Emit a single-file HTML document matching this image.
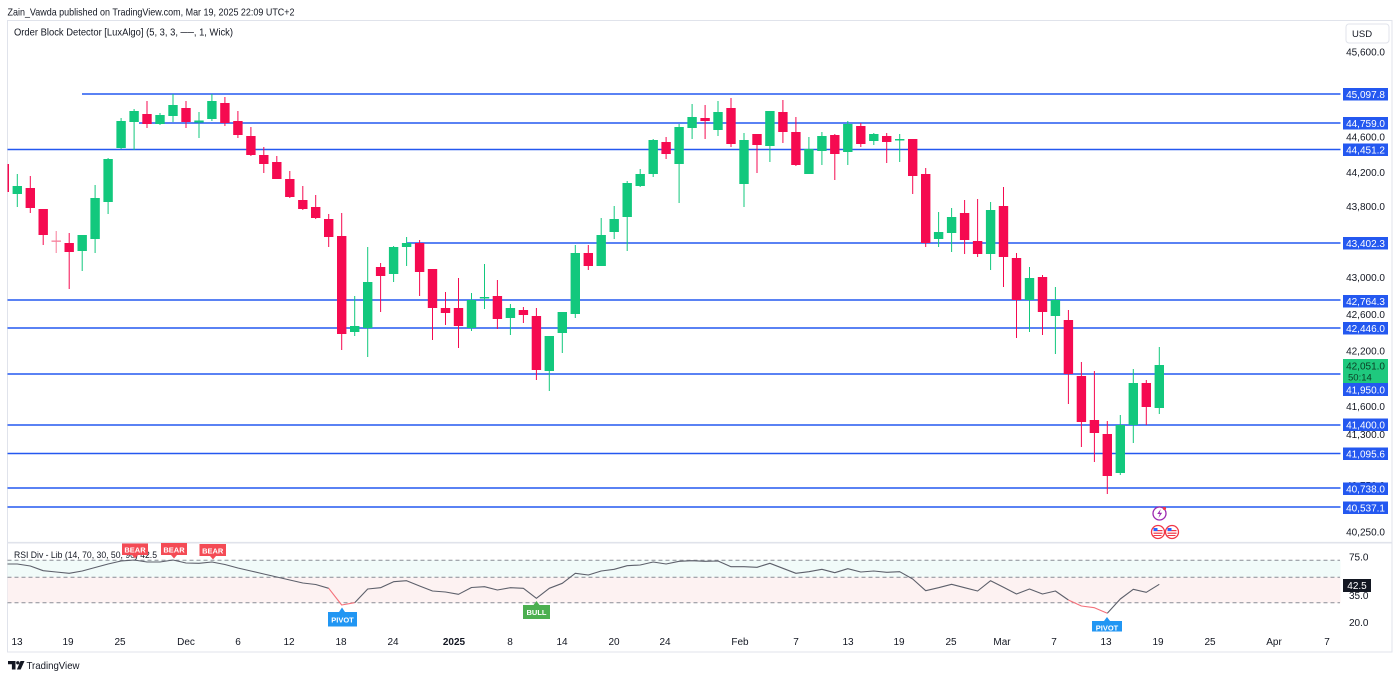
<!DOCTYPE html>
<html><head><meta charset="utf-8"><style>
html,body{margin:0;padding:0;background:#fff;}
svg{display:block;font-family:"Liberation Sans",Arial,sans-serif;}
</style></head><body>
<svg width="1400" height="679" viewBox="0 0 1400 679" xmlns="http://www.w3.org/2000/svg">
<defs>
<clipPath id="mc"><rect x="7.5" y="20.5" width="1333" height="521.5"/></clipPath>
<clipPath id="rc"><rect x="7.5" y="543.5" width="1333" height="88"/></clipPath>
</defs>
<rect width="1400" height="679" fill="#fff"/>
<text x="7.5" y="15.5" font-size="10.5" fill="#131722" textLength="287" lengthAdjust="spacingAndGlyphs">Zain_Vawda published on TradingView.com, Mar 19, 2025 22:09 UTC+2</text>
<rect x="7.5" y="20.5" width="1384.5" height="631.5" fill="none" stroke="#e0e3eb" stroke-width="1"/>
<line x1="7.5" y1="542.7" x2="1392" y2="542.7" stroke="#e0e3eb" stroke-width="1.6"/>

<text x="14" y="35.5" font-size="10" fill="#131722" textLength="219" lengthAdjust="spacingAndGlyphs">Order Block Detector [LuxAlgo] (5, 3, 3, ──, 1, Wick)</text>

<g clip-path="url(#mc)" stroke="#2458f0" stroke-width="1.6">
<line x1="82" y1="94" x2="1343" y2="94"/>
<line x1="139" y1="123" x2="1343" y2="123"/>
<line x1="7.5" y1="149.5" x2="1343" y2="149.5"/>
<line x1="407" y1="243" x2="1343" y2="243"/>
<line x1="7.5" y1="300" x2="1343" y2="300"/>
<line x1="7.5" y1="328" x2="1343" y2="328"/>
<line x1="7.5" y1="374" x2="1343" y2="374"/>
<line x1="7.5" y1="425" x2="1343" y2="425"/>
<line x1="7.5" y1="453.5" x2="1343" y2="453.5"/>
<line x1="7.5" y1="488" x2="1343" y2="488"/>
<line x1="7.5" y1="507" x2="1343" y2="507"/>
</g>

<g clip-path="url(#mc)">
<g fill="#12c87d">
<rect x="16.8" y="174" width="1" height="33"/><rect x="12.6" y="186" width="9.4" height="8"/>
<rect x="81.7" y="235" width="1" height="36"/><rect x="77.5" y="235" width="9.4" height="16"/>
<rect x="94.6" y="185" width="1" height="68"/><rect x="90.4" y="198" width="9.4" height="41"/>
<rect x="107.6" y="158" width="1" height="56"/><rect x="103.4" y="159" width="9.4" height="43"/>
<rect x="120.6" y="118" width="1" height="31"/><rect x="116.4" y="121" width="9.4" height="27"/>
<rect x="133.6" y="109" width="1" height="41"/><rect x="129.4" y="111" width="9.4" height="11"/>
<rect x="159.5" y="113" width="1" height="12"/><rect x="155.3" y="115" width="9.4" height="9"/>
<rect x="172.5" y="94" width="1" height="28"/><rect x="168.3" y="105" width="9.4" height="11"/>
<rect x="198.5" y="112" width="1" height="26"/><rect x="194.3" y="120.5" width="9.4" height="2"/>
<rect x="211.4" y="94" width="1" height="27"/><rect x="207.2" y="101" width="9.4" height="18"/>
<rect x="354.2" y="296" width="1" height="40"/><rect x="350" y="326" width="9.4" height="6"/>
<rect x="367.2" y="247" width="1" height="110"/><rect x="363" y="282" width="9.4" height="46"/>
<rect x="393.1" y="246" width="1" height="36"/><rect x="388.9" y="247" width="9.4" height="27"/>
<rect x="406.1" y="237" width="1" height="29"/><rect x="401.9" y="243" width="9.4" height="4"/>
<rect x="471" y="293" width="1" height="38"/><rect x="466.8" y="300" width="9.4" height="28"/>
<rect x="484" y="264" width="1" height="45"/><rect x="479.8" y="297" width="9.4" height="1.5"/>
<rect x="509.9" y="304" width="1" height="31"/><rect x="505.7" y="308" width="9.4" height="10"/>
<rect x="548.8" y="336" width="1" height="55"/><rect x="544.6" y="336" width="9.4" height="35"/>
<rect x="561.8" y="312" width="1" height="41"/><rect x="557.6" y="312" width="9.4" height="21"/>
<rect x="574.8" y="245" width="1" height="73"/><rect x="570.6" y="253" width="9.4" height="61"/>
<rect x="600.7" y="218" width="1" height="48"/><rect x="596.5" y="235" width="9.4" height="31"/>
<rect x="613.7" y="206" width="1" height="33"/><rect x="609.5" y="219" width="9.4" height="13"/>
<rect x="626.7" y="181" width="1" height="70"/><rect x="622.5" y="183" width="9.4" height="34"/>
<rect x="639.7" y="169" width="1" height="18"/><rect x="635.5" y="174" width="9.4" height="12"/>
<rect x="652.7" y="139" width="1" height="38"/><rect x="648.5" y="140" width="9.4" height="34"/>
<rect x="678.6" y="124" width="1" height="79"/><rect x="674.4" y="127" width="9.4" height="37"/>
<rect x="691.6" y="104" width="1" height="35"/><rect x="687.4" y="117" width="9.4" height="11"/>
<rect x="717.5" y="101" width="1" height="35"/><rect x="713.3" y="112" width="9.4" height="18"/>
<rect x="743.5" y="133" width="1" height="74"/><rect x="739.3" y="140" width="9.4" height="44"/>
<rect x="769.4" y="111" width="1" height="51"/><rect x="765.2" y="111" width="9.4" height="35"/>
<rect x="808.4" y="137" width="1" height="37"/><rect x="804.2" y="149" width="9.4" height="25"/>
<rect x="821.4" y="132" width="1" height="33"/><rect x="817.2" y="136" width="9.4" height="15"/>
<rect x="847.3" y="121" width="1" height="44"/><rect x="843.1" y="124" width="9.4" height="28"/>
<rect x="873.3" y="133" width="1" height="12"/><rect x="869.1" y="134" width="9.4" height="7"/>
<rect x="899.2" y="134" width="1" height="28"/><rect x="895" y="139" width="9.4" height="1.5"/>
<rect x="938.1" y="212" width="1" height="35"/><rect x="933.9" y="232" width="9.4" height="7"/>
<rect x="951.1" y="208" width="1" height="44"/><rect x="946.9" y="217" width="9.4" height="16"/>
<rect x="990.1" y="202" width="1" height="68"/><rect x="985.9" y="210" width="9.4" height="44"/>
<rect x="1029" y="267" width="1" height="65"/><rect x="1024.8" y="278" width="9.4" height="22"/>
<rect x="1054.9" y="287" width="1" height="67"/><rect x="1050.7" y="300" width="9.4" height="16"/>
<rect x="1119.8" y="415" width="1" height="60"/><rect x="1115.6" y="425" width="9.4" height="48"/>
<rect x="1132.8" y="369" width="1" height="74"/><rect x="1128.6" y="383" width="9.4" height="42"/>
<rect x="1158.8" y="347" width="1" height="67"/><rect x="1154.6" y="365" width="9.4" height="43"/>
</g>
<g fill="#f50a50">
<rect x="-0.4" y="164" width="9.4" height="28"/>
<rect x="29.8" y="176" width="1" height="37"/><rect x="25.6" y="188" width="9.4" height="20"/>
<rect x="42.7" y="209" width="1" height="36"/><rect x="38.5" y="209" width="9.4" height="26"/>
<rect x="55.7" y="231" width="1" height="22" fill="#f77c99"/><rect x="51.5" y="240.5" width="9.4" height="1.3" fill="#f77c99"/>
<rect x="68.7" y="233" width="1" height="56"/><rect x="64.5" y="243" width="9.4" height="9"/>
<rect x="146.5" y="101" width="1" height="27"/><rect x="142.3" y="114" width="9.4" height="10"/>
<rect x="185.5" y="101" width="1" height="27"/><rect x="181.3" y="108" width="9.4" height="14"/>
<rect x="224.4" y="97" width="1" height="29"/><rect x="220.2" y="103" width="9.4" height="20"/>
<rect x="237.4" y="111" width="1" height="27"/><rect x="233.2" y="121" width="9.4" height="14"/>
<rect x="250.4" y="127" width="1" height="29"/><rect x="246.2" y="136" width="9.4" height="19"/>
<rect x="263.3" y="147" width="1" height="26"/><rect x="259.1" y="155" width="9.4" height="9"/>
<rect x="276.3" y="156" width="1" height="23"/><rect x="272.1" y="162" width="9.4" height="17"/>
<rect x="289.3" y="171" width="1" height="27"/><rect x="285.1" y="179" width="9.4" height="18"/>
<rect x="302.3" y="186" width="1" height="24"/><rect x="298.1" y="200" width="9.4" height="9"/>
<rect x="315.2" y="195" width="1" height="24"/><rect x="311" y="207" width="9.4" height="11"/>
<rect x="328.2" y="214" width="1" height="33"/><rect x="324" y="219" width="9.4" height="18"/>
<rect x="341.2" y="213" width="1" height="137"/><rect x="337" y="236" width="9.4" height="98"/>
<rect x="380.1" y="263" width="1" height="49"/><rect x="375.9" y="267" width="9.4" height="9"/>
<rect x="419.1" y="240" width="1" height="56"/><rect x="414.9" y="243" width="9.4" height="29"/>
<rect x="432" y="269" width="1" height="71"/><rect x="427.8" y="269" width="9.4" height="39"/>
<rect x="445" y="292" width="1" height="33"/><rect x="440.8" y="308" width="9.4" height="5"/>
<rect x="458" y="278" width="1" height="70"/><rect x="453.8" y="308" width="9.4" height="18"/>
<rect x="496.9" y="280" width="1" height="49"/><rect x="492.7" y="296" width="9.4" height="23"/>
<rect x="522.9" y="307" width="1" height="16"/><rect x="518.7" y="310" width="9.4" height="5"/>
<rect x="535.9" y="308" width="1" height="72"/><rect x="531.7" y="316" width="9.4" height="54"/>
<rect x="587.8" y="245" width="1" height="25"/><rect x="583.6" y="253" width="9.4" height="13"/>
<rect x="665.6" y="137" width="1" height="22"/><rect x="661.4" y="142" width="9.4" height="12"/>
<rect x="704.6" y="105" width="1" height="34"/><rect x="700.4" y="118" width="9.4" height="3"/>
<rect x="730.5" y="98" width="1" height="49"/><rect x="726.3" y="108" width="9.4" height="36"/>
<rect x="756.5" y="134" width="1" height="39"/><rect x="752.3" y="134" width="9.4" height="11"/>
<rect x="782.4" y="100" width="1" height="43"/><rect x="778.2" y="112" width="9.4" height="20"/>
<rect x="795.4" y="117" width="1" height="49"/><rect x="791.2" y="132" width="9.4" height="33"/>
<rect x="834.3" y="134" width="1" height="46"/><rect x="830.1" y="135" width="9.4" height="19"/>
<rect x="860.3" y="123" width="1" height="24"/><rect x="856.1" y="126" width="9.4" height="18"/>
<rect x="886.2" y="133" width="1" height="30"/><rect x="882" y="136" width="9.4" height="6"/>
<rect x="912.2" y="139" width="1" height="55"/><rect x="908" y="139" width="9.4" height="37"/>
<rect x="925.2" y="168" width="1" height="79"/><rect x="921" y="174" width="9.4" height="69"/>
<rect x="964.1" y="200" width="1" height="54"/><rect x="959.9" y="213" width="9.4" height="27"/>
<rect x="977.1" y="199" width="1" height="58"/><rect x="972.9" y="241" width="9.4" height="13"/>
<rect x="1003" y="187" width="1" height="100"/><rect x="998.8" y="206" width="9.4" height="51"/>
<rect x="1016" y="253" width="1" height="85"/><rect x="1011.8" y="258" width="9.4" height="42"/>
<rect x="1042" y="275" width="1" height="60"/><rect x="1037.8" y="277" width="9.4" height="35"/>
<rect x="1067.9" y="310" width="1" height="94"/><rect x="1063.7" y="320" width="9.4" height="54"/>
<rect x="1080.9" y="362" width="1" height="85"/><rect x="1076.7" y="376" width="9.4" height="46"/>
<rect x="1093.9" y="371" width="1" height="91"/><rect x="1089.7" y="420" width="9.4" height="13"/>
<rect x="1106.8" y="421" width="1" height="73"/><rect x="1102.6" y="434" width="9.4" height="42"/>
<rect x="1145.8" y="380" width="1" height="45"/><rect x="1141.6" y="383" width="9.4" height="24"/>
</g>
</g>

<!-- event icons -->
<circle cx="1159.5" cy="513.5" r="6.5" fill="#fff" stroke="#9c27b0" stroke-width="1.3"/>
<path d="M1160.8 509 l-3.6 5 h2.6 l-1.4 4 l3.8 -5.2 h-2.6 z" fill="#9c27b0"/>
<circle cx="1164.5" cy="508.5" r="1.6" fill="#f23645"/>
<g>
<circle cx="1158" cy="532" r="6.5" fill="#fff" stroke="#f23645" stroke-width="1.3"/>
<rect x="1153.5" y="530" width="9" height="1.2" fill="#f23645"/><rect x="1153.5" y="532.6" width="9" height="1.2" fill="#f23645"/><rect x="1153.5" y="535" width="8" height="1" fill="#f23645"/>
<rect x="1153.5" y="528" width="4" height="3" fill="#2962ff"/>
<circle cx="1172" cy="532" r="6.5" fill="#fff" stroke="#f23645" stroke-width="1.3"/>
<rect x="1167.5" y="530" width="9" height="1.2" fill="#f23645"/><rect x="1167.5" y="532.6" width="9" height="1.2" fill="#f23645"/><rect x="1167.5" y="535" width="8" height="1" fill="#f23645"/>
<rect x="1167.5" y="528" width="4" height="3" fill="#2962ff"/>
</g>

<!-- price axis -->
<g font-size="10" fill="#131722" text-anchor="end">
<text x="1385" y="55.5">45,600.0</text>
<text x="1385" y="140.5">44,600.0</text>
<text x="1385" y="175.8">44,200.0</text>
<text x="1385" y="209.8">43,800.0</text>
<text x="1385" y="280.8">43,000.0</text>
<text x="1385" y="317.8">42,600.0</text>
<text x="1385" y="354.5">42,200.0</text>
<text x="1385" y="409.8">41,600.0</text>
<text x="1385" y="438">41,300.0</text>
<text x="1385" y="489">40,750.0</text>
<text x="1385" y="535.5">40,250.0</text>
</g>
<rect x="1346" y="24" width="43" height="19" rx="3" fill="#fff" stroke="#e0e3eb"/>
<text x="1352" y="37" font-size="9.5" fill="#131722">USD</text>
<g fill="#2458f0">
<rect x="1343" y="88" width="45" height="12.5"/>
<rect x="1343" y="117" width="45" height="12.5"/>
<rect x="1343" y="143.5" width="45" height="12.5"/>
<rect x="1343" y="237" width="45" height="12.5"/>
<rect x="1343" y="295" width="45" height="12.5"/>
<rect x="1343" y="322" width="45" height="12.5"/>
<rect x="1343" y="383" width="45" height="13"/>
<rect x="1343" y="418.5" width="45" height="12.5"/>
<rect x="1343" y="447.5" width="45" height="12.5"/>
<rect x="1343" y="482.5" width="45" height="12.5"/>
<rect x="1343" y="501.5" width="45" height="12.5"/>
</g>
<rect x="1343" y="359" width="45" height="24" fill="#1fc97e"/>
<g font-size="10" fill="#fff" text-anchor="end">
<text x="1385" y="98">45,097.8</text>
<text x="1385" y="127">44,759.0</text>
<text x="1385" y="153.5">44,451.2</text>
<text x="1385" y="247">43,402.3</text>
<text x="1385" y="305">42,764.3</text>
<text x="1385" y="332">42,446.0</text>
<text x="1385" y="393.3">41,950.0</text>
<text x="1385" y="428.5">41,400.0</text>
<text x="1385" y="457.5">41,095.6</text>
<text x="1385" y="492.5">40,738.0</text>
<text x="1385" y="511.5">40,537.1</text>
</g>
<text x="1385" y="369.5" font-size="10" fill="#0b3d24" text-anchor="end">42,051.0</text>
<text x="1348" y="380.5" font-size="9.5" fill="#0b3d24">50:14</text>

<!-- RSI pane -->
<rect x="7.5" y="560" width="1333" height="17" fill="#f1fbf9"/>
<rect x="7.5" y="577" width="1333" height="26" fill="#fdf2f2"/>
<g stroke="#8a8d96" stroke-width="1" stroke-dasharray="4 3">
<line x1="7.5" y1="560.3" x2="1340" y2="560.3"/>
<line x1="7.5" y1="577.3" x2="1340" y2="577.3"/>
<line x1="7.5" y1="602.7" x2="1340" y2="602.7"/>
</g>
<g clip-path="url(#rc)" fill="none" stroke-width="1.1" stroke-linejoin="round">
<polyline stroke="#5d606b" points="4.3,564 17.3,564 30.3,566 43.2,570.7 56.2,572 69.2,573.3 82.2,571 95.1,567.5 108.1,564 121.1,561 134.1,560 147,562 160,562 173,560 186,563 199,563.3 211.9,562 224.9,564.5 237.9,568 250.9,571 263.8,574 276.8,577 289.8,580 302.8,583 315.7,584.5 328.7,588.3"/>
<polyline stroke="#f4707a" points="328.7,588.3 341.7,605 354.7,602.7"/>
<polyline stroke="#5d606b" points="354.7,602.7 367.7,589 380.6,587.7 393.6,581.7 406.6,580.7 419.6,586 432.5,591 445.5,592 458.5,594.3 471.5,587.5 484.5,586.7 497.4,590 510.4,587.7 523.4,588.3 536.4,598.3 549.3,588.3 562.3,583.3 575.3,573.3 588.3,575 601.2,571 614.2,569.3 627.2,565.7 640.2,565 653.2,562 666.1,564 679.1,561.3 692.1,560.7 705.1,561.3 718,561 731,566.7 744,566.7 757,567.3 769.9,563.3 782.9,568.3 795.9,573.3 808.9,571.7 821.9,569.3 834.8,572.7 847.8,568.7 860.8,572 873.8,571 886.7,572.3 899.7,571.7 912.7,579 925.7,590.7 938.6,587.7 951.6,584.3 964.6,587.7 977.6,591 990.6,580.7 1003.5,587.3 1016.5,594 1029.5,589 1042.5,594 1055.4,591 1068.4,600"/>
<polyline stroke="#f4707a" points="1068.4,600 1081.4,606 1094.4,607.7 1107.3,613.3"/>
<polyline stroke="#5d606b" points="1107.3,613.3 1120.3,599 1133.3,589.3 1146.3,592.3 1159.3,584.3"/>
</g>
<text x="14" y="558" font-size="9.5" fill="#131722" textLength="143" lengthAdjust="spacingAndGlyphs">RSI Div - Lib (14, 70, 30, 50, 90) 42.5</text>

<g font-size="7.5" font-weight="bold" fill="#fff" text-anchor="middle">
<path d="M122 543.5 h26 v11.5 h-10 l-3 3.5 l-3 -3.5 h-10 z" fill="#f44b55"/>
<text x="135" y="552.5">BEAR</text>
<path d="M161 543 h26 v12 h-10 l-3 3.5 l-3 -3.5 h-10 z" fill="#f44b55"/>
<text x="174" y="552.3">BEAR</text>
<path d="M199.5 544 h26.5 v12 h-10 l-3 3.5 l-3 -3.5 h-10.5 z" fill="#f44b55"/>
<text x="212.7" y="553.3">BEAR</text>
<path d="M523 605 h10.5 l3 -4 l3 4 h10.5 v14 h-27 z" fill="#4caf50"/>
<text x="536.5" y="615">BULL</text>
<path d="M328 612 h11 l3 -4.5 l3 4.5 h12 v14.5 h-29 z" fill="#2196f3"/>
<text x="342.5" y="622.5">PIVOT</text>
<g clip-path="url(#rc)">
<path d="M1092 621 h12 l3 -4 l3 4 h12 v12 h-30 z" fill="#2196f3"/>
<text x="1107" y="630.5">PIVOT</text>
</g>
</g>

<g font-size="10" fill="#131722">
<text x="1349" y="560.5">75.0</text>
<text x="1349" y="599">35.0</text>
<text x="1349" y="626">20.0</text>
</g>
<rect x="1343" y="579" width="28" height="13" fill="#131722"/>
<text x="1357" y="589" font-size="10" fill="#fff" text-anchor="middle">42.5</text>

<!-- time axis -->
<g font-size="10" fill="#131722" text-anchor="middle">
<text x="17" y="645">13</text>
<text x="68" y="645">19</text>
<text x="120" y="645">25</text>
<text x="186" y="645">Dec</text>
<text x="238" y="645">6</text>
<text x="289" y="645">12</text>
<text x="341" y="645">18</text>
<text x="393" y="645">24</text>
<text x="454" y="645" font-weight="bold">2025</text>
<text x="510" y="645">8</text>
<text x="562" y="645">14</text>
<text x="614" y="645">20</text>
<text x="665" y="645">24</text>
<text x="740" y="645">Feb</text>
<text x="796" y="645">7</text>
<text x="848" y="645">13</text>
<text x="899" y="645">19</text>
<text x="951" y="645">25</text>
<text x="1002" y="645">Mar</text>
<text x="1054" y="645">7</text>
<text x="1106" y="645">13</text>
<text x="1158" y="645">19</text>
<text x="1210" y="645">25</text>
<text x="1274" y="645">Apr</text>
<text x="1327" y="645">7</text>
</g>

<!-- footer -->
<path d="M8 661 h7.5 v8.5 h-3.6 v-5.2 h-3.9 z" fill="#131722"/>
<circle cx="17.8" cy="662.8" r="1.7" fill="#131722"/>
<path d="M20.5 661 h4 l-3.8 8.5 h-3.8 z" fill="#131722"/>
<text x="26.5" y="669" font-size="10.5" fill="#131722" textLength="53" lengthAdjust="spacingAndGlyphs">TradingView</text>
</svg>
</body></html>
